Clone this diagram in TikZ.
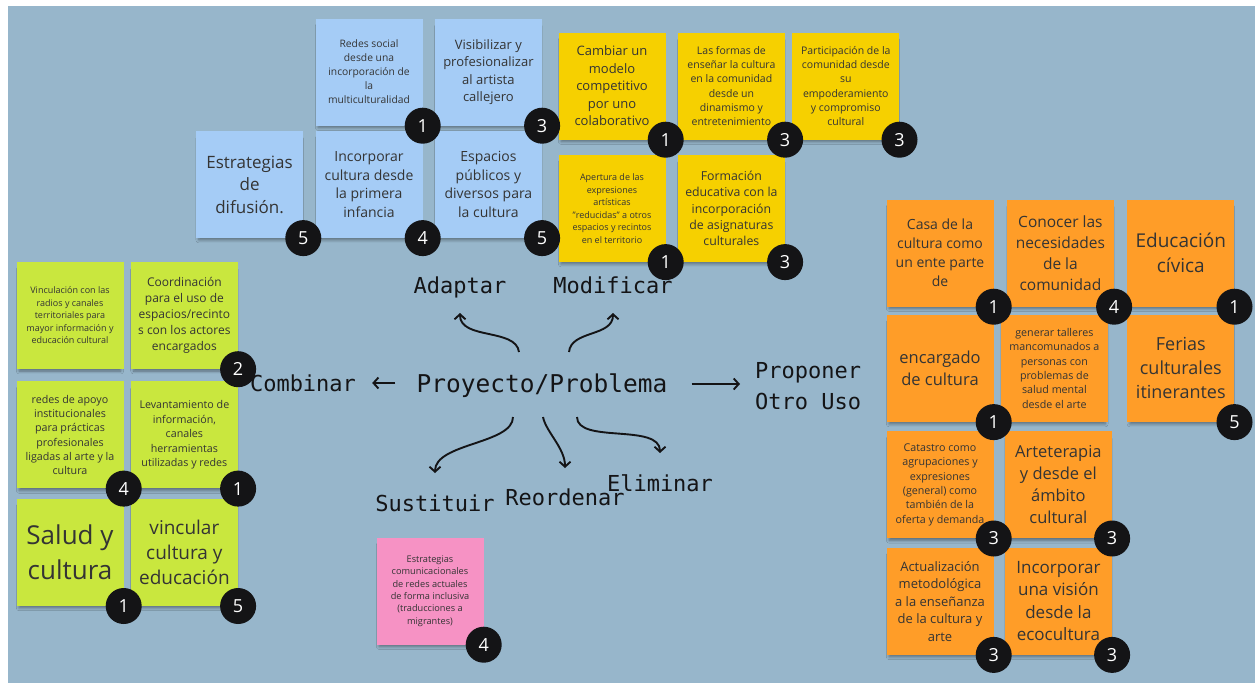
\documentclass[tikz,border=0pt]{standalone}
\usepackage{fontspec}
\setmainfont{Open Sans}
\setmonofont{DejaVu Sans Mono}
\usetikzlibrary{arrows.meta,positioning,shadows.blur}
\definecolor{pizarra}{RGB}{151,182,203}
\definecolor{notaazul}{RGB}{165,204,246}
\definecolor{notaamarilla}{RGB}{246,208,0}
\definecolor{notaverde}{RGB}{201,231,62}
\definecolor{notanaranja}{RGB}{255,157,40}
\definecolor{notarosa}{RGB}{246,146,196}
\definecolor{tinta}{RGB}{52,52,52}
\definecolor{negro}{RGB}{20,20,22}
\tikzset{
    %Define style for sticky notes
    nota/.style={
           rectangle,
           minimum width=107pt,
           minimum height=107pt,
           inner sep=2pt,
           align=center,
           text=tinta,
           blur shadow={shadow xshift=0pt, shadow yshift=-5pt, shadow scale=0.95, shadow blur radius=3pt, shadow blur steps=6, shadow opacity=40}},
    sz/.style 2 args={font=\fontsize{#1}{#2}\selectfont},
    %Define style for votes
    voto/.style={
           circle,
           fill=negro,
           minimum size=36pt,
           inner sep=0pt,
           text=white,
           font=\fontsize{18}{18}\selectfont},
    %Define style for labels
    etiq/.style={
           anchor=base,
           inner sep=0pt,
           text=negro,
           font=\ttfamily\fontsize{22}{31}\selectfont},
    % Define arrow style
    flecha/.style={
           -{Straight Barb[length=5pt,width=11pt]},
           line width=1.9pt,
           draw=negro}
}
\begin{document}
\begin{tikzpicture}[x=1pt,y=-1pt]
\useasboundingbox (0,0) rectangle (1255,683);
\fill[pizarra] (8,6) rectangle (1255,683);
 %blue notes
\node[nota, fill=notaazul, sz={10.3}{14}] (b1) at (369,72) {Redes social\\desde una\\incorporación de\\la\\multiculturalidad};
\node[nota, fill=notaazul, sz={13}{17.3}, right=12pt of b1] (b2) {Visibilizar y\\profesionalizar\\al artista\\callejero};
\node[nota, fill=notaazul, sz={14}{18.5}, below=5pt of b1] (b4) {Incorporar\\cultura desde\\la primera\\infancia};
\node[nota, fill=notaazul, sz={17}{22.5}, left=12pt of b4] (b3) {Estrategias\\de\\difusión.};
\node[nota, fill=notaazul, sz={14}{18.5}, below=5pt of b2] (b5) {Espacios\\públicos y\\diversos para\\la cultura};
 %yellow notes
\node[nota, fill=notaamarilla, sz={13}{17.5}] (y1) at (612,86) {Cambiar un\\modelo\\competitivo\\por uno\\colaborativo};
\node[nota, fill=notaamarilla, sz={10.5}{14.2}, right=12pt of y1] (y2) {Las formas de\\enseñar la cultura\\en la comunidad\\desde un\\dinamismo y\\entretenimiento};
\node[nota, fill=notaamarilla, sz={10.5}{14.2}, right=7pt of y2] (y3) {Participación de la\\comunidad desde\\su\\empoderamiento\\y compromiso\\cultural};
\node[nota, fill=notaamarilla, sz={9}{12.5}, below=15pt of y1] (y4) {Apertura de las\\expresiones\\artísticas\\"reducidas" a otros\\espacios y recintos\\en el territorio};
\node[nota, fill=notaamarilla, sz={12.3}{16.3}, below=15pt of y2] (y5) {Formación\\educativa con la\\incorporación\\de asignaturas\\culturales};
 %green notes
\node[nota, fill=notaverde, sz={9}{12.5}] (g1) at (70,315.5) {Vinculación con las\\radios y canales\\territoriales para\\mayor información y\\educación cultural};
\node[nota, fill=notaverde, sz={12}{16}, right=7pt of g1] (g2) {Coordinación\\para el uso de\\espacios/recinto\\s con los actores\\encargados};
\node[nota, fill=notaverde, sz={10.7}{14.3}, below=12pt of g1] (g3) {redes de apoyo\\institucionales\\para prácticas\\profesionales\\ligadas al arte y la\\cultura};
\node[nota, fill=notaverde, sz={10.7}{14.6}, below=12pt of g2] (g4) {Levantamiento de\\información,\\canales\\herramientas\\utilizadas y redes};
\node[nota, fill=notaverde, sz={26}{35}, below=10pt of g3] (g5) {Salud y\\cultura};
\node[nota, fill=notaverde, sz={19}{25}, below=10pt of g4] (g6) {vincular\\cultura y\\educación};
 %orange notes
\node[nota, fill=notanaranja, sz={14}{19}] (o1) at (940,253) {Casa de la\\cultura como\\un ente parte\\de};
\node[nota, fill=notanaranja, sz={15.5}{20.8}, right=13pt of o1] (o2) {Conocer las\\necesidades\\de la\\comunidad};
\node[nota, fill=notanaranja, sz={19}{25}, right=13pt of o2] (o3) {Educación\\cívica};
\node[nota, fill=notanaranja, sz={16.5}{21.7}, below=8pt of o1] (o4) {encargado\\de cultura};
\node[nota, fill=notanaranja, sz={10.7}{14.3}, right=7pt of o4] (o5) {generar talleres\\mancomunados a\\personas con\\problemas de\\salud mental\\desde el arte};
\node[nota, fill=notanaranja, sz={18}{24}, below=8pt of o3] (o6) {Ferias\\culturales\\itinerantes};
\node[nota, fill=notanaranja, sz={10.7}{14.3}, below=9pt of o4] (o7) {Catastro como\\agrupaciones y\\expresiones\\(general) como\\también de la\\oferta y demanda};
\node[nota, fill=notanaranja, sz={16.5}{22}, right=11pt of o7] (o8) {Arteterapia\\y desde el\\ámbito\\cultural};
\node[nota, fill=notanaranja, sz={13}{17.5}, below=9pt of o7] (o9) {Actualización\\metodológica\\a la enseñanza\\de la cultura y\\arte};
\node[nota, fill=notanaranja, sz={17}{22.5}, below=9pt of o8] (o10) {Incorporar\\una visión\\desde la\\ecocultura};
 %pink note
\node[nota, fill=notarosa, sz={9.2}{12.3}] (p1) at (430,591) {Estrategias\\comunicacionales\\de redes actuales\\de forma inclusiva\\(traducciones a\\migrantes)};
 %votes
\node[voto] (vb1) at (b1.south east) {1};
\node[voto] (vb2) at (b2.south east) {3};
\node[voto] (vb3) at (b3.south east) {5};
\node[voto] (vb4) at (b4.south east) {4};
\node[voto] (vb5) at (b5.south east) {5};
\node[voto] (vy1) at (y1.south east) {1};
\node[voto] (vy2) at (y2.south east) {3};
\node[voto] (vy3) at (y3.south east) {3};
\node[voto] (vy4) at (y4.south east) {1};
\node[voto] (vy5) at (y5.south east) {3};
\node[voto] (vg2) at (g2.south east) {2};
\node[voto] (vg3) at (g3.south east) {4};
\node[voto] (vg4) at (g4.south east) {1};
\node[voto] (vg5) at (g5.south east) {1};
\node[voto] (vg6) at (g6.south east) {5};
\node[voto] (vo1) at (o1.south east) {1};
\node[voto] (vo2) at (o2.south east) {4};
\node[voto] (vo3) at (o3.south east) {1};
\node[voto] (vo4) at (o4.south east) {1};
\node[voto] (vo6) at (o6.south east) {5};
\node[voto] (vo7) at (o7.south east) {3};
\node[voto] (vo8) at (o8.south east) {3};
\node[voto] (vo9) at (o9.south east) {3};
\node[voto] (vo10) at (o10.south east) {3};
\node[voto] (vp1) at (p1.south east) {4};
 %labels
\node[etiq, font=\ttfamily\fontsize{24.5}{30}\selectfont] (proj) at (542,392) {Proyecto/Problema};
\node[etiq] (adaptar) at (460,293) {Adaptar};
\node[etiq] (modificar) at (613,293) {Modificar};
\node[etiq] (combinar) at (303,391) {Combinar};
\node[etiq, anchor=west, align=left] (proponer) at (755,386) {Proponer\\Otro Uso};
\node[etiq] (sustituir) at (435,511) {Sustituir};
\node[etiq] (reordenar) at (565,505) {Reordenar};
\node[etiq] (eliminar) at (660,491) {Eliminar};
 %arrows
\draw[flecha] ([xshift=-23pt,yshift=40pt]proj.base) .. controls +(-3,-24) and +(0,27) .. ([yshift=-20pt]adaptar.base);
\draw[flecha] ([xshift=27pt,yshift=40pt]proj.base) .. controls +(2,-22) and +(0,24) .. ([yshift=-20pt]modificar.base);
\draw[flecha] ([xshift=-21pt,yshift=9pt]proj.base west) -- ([xshift=16pt,yshift=8pt]combinar.base east);
\draw[flecha] ([xshift=24pt,yshift=8pt]proj.base east) -- ([xshift=-15pt,yshift=2pt]proponer.west);
\draw[flecha] ([xshift=-29pt,yshift=-25pt]proj.base) .. controls +(0,27) and +(0,-30) .. ([yshift=38pt]sustituir.base);
\draw[flecha] ([xshift=1pt,yshift=-25pt]proj.base) .. controls +(3,15) and +(0,-20) .. ([yshift=37pt]reordenar.base);
\draw[flecha] ([xshift=35pt,yshift=-25pt]proj.base) .. controls +(0,27) and +(0,-30) .. ([yshift=38pt]eliminar.base);
\end{tikzpicture}
\end{document}
